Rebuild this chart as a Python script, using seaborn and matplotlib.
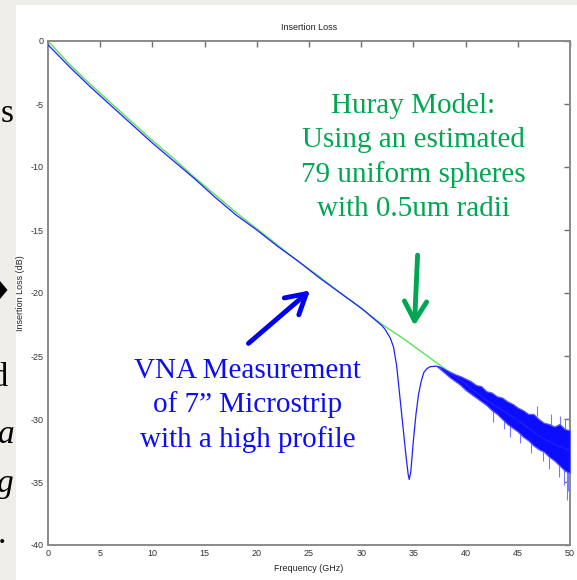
import matplotlib
matplotlib.use("Agg")
import matplotlib.pyplot as plt
import seaborn as sns
from matplotlib.patches import Rectangle, Polygon

# ---- data ----
freq_meas = [0, 2, 4, 6, 8, 10, 12, 14, 16, 18, 20, 22, 24, 26, 28, 30, 31, 32,
             32.3, 32.8, 33.1, 33.4, 33.7, 34.0, 34.3, 34.5, 34.6, 34.75, 35.0,
             35.25, 35.5, 35.75, 36.0, 36.3, 36.6, 37.2, 37.7, 38.5, 39.5, 40.7,
             42.0, 43.9, 45.5, 47.1, 48.5, 50.0]
loss_meas = [-0.3, -2.0, -3.6, -5.1, -6.6, -8.1, -9.5, -10.9, -12.4, -13.8, -15.0,
             -16.3, -17.5, -18.8, -20.0, -21.2, -21.9, -22.6,
             -22.9, -23.6, -24.3, -25.8, -28.2, -30.6, -33.0, -34.4, -34.8, -34.2,
             -31.7, -29.6, -28.0, -27.0, -26.3, -26.0, -25.85, -25.8, -25.95, -26.4,
             -26.9, -27.7, -28.5, -29.5, -30.4, -31.4, -32.0, -32.5]

freq_model = [0, 2, 4, 6, 8, 10, 12, 14, 16, 18, 20, 22, 24, 26, 28, 30, 32, 34,
              36, 38, 40, 42, 44, 46, 48, 50]
loss_model = [0.0, -1.8, -3.4, -4.9, -6.4, -7.9, -9.3, -10.8, -12.2, -13.6, -14.9,
              -16.2, -17.5, -18.7, -20.0, -21.2, -22.5, -23.6, -24.8, -26.0, -27.1,
              -28.2, -29.3, -30.4, -31.5, -32.5]

noise_freq = [37.3, 38.0, 38.5, 39.0, 39.5, 40.0, 40.5, 41.0, 41.5, 42.0,
              42.5, 43.0, 43.5, 44.0, 44.5, 45.0, 45.5, 46.0, 46.5, 47.0, 47.5, 48.0,
              48.5, 49.0, 49.5, 50.0]
noise_upper = [-25.8, -26.05, -26.25, -26.45, -26.6, -26.8, -27.0, -27.3,
               -27.4, -27.8, -27.9, -28.2, -28.3, -28.6, -28.8, -29.1, -29.3, -29.6,
               -29.6, -30.0, -30.3, -30.4, -30.6, -30.4, -30.8, -30.9]
noise_lower = [-25.85, -26.35, -26.7, -27.0, -27.3, -27.7, -28.0, -28.3,
               -28.6, -28.9, -29.3, -29.6, -30.0, -30.4, -30.7, -31.0, -31.4, -31.7,
               -32.1, -32.4, -32.6, -33.0, -33.3, -33.7, -34.1, -34.3]

spike_freq = [42.6, 43.7, 44.3, 45.2, 46.3, 46.8, 47.4, 48.0, 48.2,
              48.9, 49.0, 49.4, 49.5, 49.7, 49.85, 49.9]
spike_from = [-29.2, -29.5, -30.2, -30.8, -31.5, -29.8, -32.3, -32.8, -30.5,
              -33.4, -30.5, -33.8, -31.0, -34.0, -34.0, -31.0]
spike_to = [-30.2, -30.8, -31.4, -31.9, -32.7, -29.0, -33.3, -34.0, -29.6,
            -34.6, -29.8, -35.2, -30.0, -36.4, -35.7, -30.0]

x_ticks = [0, 5, 10, 15, 20, 25, 30, 35, 40, 45, 50]
y_ticks = [0, -5, -10, -15, -20, -25, -30, -35, -40]

title_text = "Insertion Loss"
x_label = "Frequency (GHz)"
y_label = "Insertion Loss (dB)"
model_note = "Huray Model:\nUsing an estimated\n79 uniform spheres\nwith 0.5um radii"
meas_note = "VNA Measurement\nof 7\u201d Microstrip\nwith a high profile"

# ---- style ----
sns.set_style("white")
plt.rcParams['font.family'] = ['Liberation Sans', 'DejaVu Sans']

W, H = 577, 580
fig = plt.figure(figsize=(W / 100, H / 100), dpi=100, facecolor='#efeee9')
fig.patches.append(Rectangle((16 / W, 0), 1 - 16 / W, 1 - 5 / H,
                             transform=fig.transFigure, facecolor='white',
                             edgecolor='none', zorder=-10))

ax = fig.add_axes([48 / W, 35 / H, 522 / W, 504 / H])
ax.set_zorder(5)
ax.set_facecolor('white')

sns.lineplot(x=freq_model, y=loss_model, ax=ax, color='#55e655', lw=1.0,
             estimator=None, sort=False)
ax.vlines(spike_freq, spike_from, spike_to, color='#7878ff', lw=0.8, zorder=3)
ax.fill_between(noise_freq, noise_lower, noise_upper, facecolor='#0c0cff',
                edgecolor='#5a5aff', lw=0.9, zorder=3)
sns.lineplot(x=freq_meas, y=loss_meas, ax=ax, color='#2020ff', lw=0.9,
             estimator=None, sort=False, zorder=4)

ax.set_xlim(0, 50)
ax.set_ylim(-40, 0)
ax.set_xticks(x_ticks)
ax.set_yticks(y_ticks)
ax.set_xticklabels([str(t) for t in x_ticks])
ax.set_yticklabels([str(t) for t in y_ticks])
ax.tick_params(direction='in', length=4, width=1, color='#6f6f6f', top=True,
               right=True, labelsize=6.5, labelcolor='#333333', pad=3)
for s in ax.spines.values():
    s.set_color('#8a8a8a')
    s.set_linewidth(1.4)
    s.set_visible(True)

ax.set_title(title_text, fontsize=6.5, color='#222222', pad=8)
ax.set_xlabel(x_label, fontsize=6.5, color='#222222', labelpad=4)
ax.set_ylabel(y_label, fontsize=6.5, color='#222222', labelpad=4)

ax.text(35.0, -9.25, model_note, ha='center', va='center', color='#00a651',
        family='Liberation Serif', fontsize=21, linespacing=1.38, zorder=6)
ax.text(19.1, -28.9, meas_note, ha='center', va='center', color='#0d0df5',
        family='Liberation Serif', fontsize=21, linespacing=1.36, zorder=6)

ax.annotate('', xy=(25.1, -19.8), xytext=(19.2, -24.0),
            arrowprops=dict(arrowstyle='->,head_length=1.4,head_width=0.8',
                            color='#0000f0', lw=3.5, shrinkA=0, shrinkB=0))
ax.annotate('', xy=(35.1, -22.6), xytext=(35.4, -17.0),
            arrowprops=dict(arrowstyle='->,head_length=1.4,head_width=0.8',
                            color='#00a651', lw=3.5, shrinkA=0, shrinkB=0))

# ---- fragments of the slide text, cut by the left edge ----
serif = 'Liberation Serif'
fig.text(14.5 / W, 1 - 122 / H, "Loss", ha='right', va='baseline',
         family=serif, fontsize=24, color='black')
fig.text(9.5 / W, 1 - 386 / H, "and", ha='right', va='baseline',
         family=serif, fontsize=24, color='black')
fig.text(15 / W, 1 - 443 / H, "a", ha='right', va='baseline',
         family=serif, fontsize=24, style='italic', color='black')
fig.text(13.5 / W, 1 - 492 / H, "g", ha='right', va='baseline',
         family=serif, fontsize=24, style='italic', color='black')
fig.text(6 / W, 1 - 543 / H, ".", ha='right', va='baseline',
         family=serif, fontsize=24, color='black')
fig.patches.append(Polygon([(0, 1 - 281 / H), (7.5 / W, 1 - 290 / H),
                            (0, 1 - 299 / H)], closed=True,
                           transform=fig.transFigure, facecolor='black',
                           edgecolor='none'))

fig.savefig('out.png', dpi=100, facecolor=fig.get_facecolor())
